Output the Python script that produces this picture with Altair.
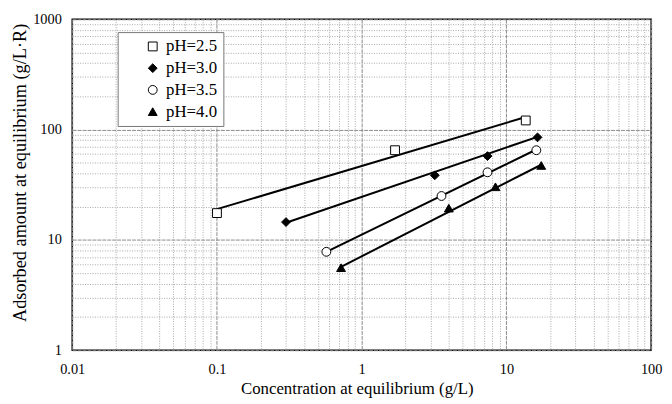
import altair as alt
import pandas as pd

series = ["pH=2.5", "pH=3.0", "pH=3.5", "pH=4.0"]

# measured points
c_25 = [0.1, 1.7, 13.6]
q_25 = [17.5, 65, 121]
c_30 = [0.3, 3.2, 7.4, 16.4]
q_30 = [14.5, 38.5, 57.5, 85]
c_35 = [0.57, 3.56, 7.4, 16.1]
q_35 = [7.8, 25, 41, 65]
c_40 = [0.72, 4.0, 8.4, 17.4]
q_40 = [5.6, 19.4, 30.3, 47.3]

# fitted line end points
fc_25 = [0.1, 13.6]
fq_25 = [19, 130]
fc_30 = [0.3, 16.4]
fq_30 = [14.3, 86]
fc_35 = [0.57, 16.1]
fq_35 = [7.8, 66]
fc_40 = [0.72, 17.4]
fq_40 = [5.7, 48]

x_ticks = [k * 10.0 ** e for e in range(-2, 2) for k in range(1, 10)] + [100]
y_ticks = [k * 10.0 ** e for e in range(0, 3) for k in range(1, 10)] + [1000]

pts = []
for s, cs, qs in zip(series, [c_25, c_30, c_35, c_40], [q_25, q_30, q_35, q_40]):
    for c, q in zip(cs, qs):
        pts.append({"series": s, "c": c, "q": q})
pts = pd.DataFrame(pts)

fits = []
for s, cs, qs in zip(series, [fc_25, fc_30, fc_35, fc_40], [fq_25, fq_30, fq_35, fq_40]):
    for c, q in zip(cs, qs):
        fits.append({"series": s, "c": c, "q": q})
fits = pd.DataFrame(fits)

FONT = "Liberation Serif"
dec = "abs(log(datum.value)/LN10 - round(log(datum.value)/LN10)) < 1e-6"

def axis(title, values, tsize, orient):
    extra = {"titleX": 288} if orient == "x" else {"titleY": 155}
    return alt.Axis(
        title=title,
        values=values,
        format="~g",
        labelExpr=f"{dec} ? datum.label : ''",
        labelOverlap=False,
        labelFlush=False,
        labelFont=FONT,
        labelFontSize=14.5,
        labelColor="black",
        titleFont=FONT,
        titleFontSize=tsize,
        titleFontWeight="normal",
        titleColor="black",
        ticks=False,
        domain=False,
        grid=True,
        gridColor={"condition": {"test": dec, "value": "#8a8a8a"}, "value": "#a8a8a8"},
        gridDash={"condition": {"test": dec, "value": [4, 1]}, "value": [1, 1.5]},
        gridWidth=1,
        labelPadding=13 if orient == "x" else 11,
        titlePadding=4 if orient == "x" else 3,
        **extra,
    )

xsc = alt.Scale(type="log", domain=[0.01, 100], nice=False)
ysc = alt.Scale(type="log", domain=[1, 1000], nice=False)

leg = dict(
    title=None,
    orient="none",
    legendX=46,
    legendY=13,
    fillColor="white",
    strokeColor="#777",
    padding=6,
    symbolOffset=21,
    labelFont=FONT,
    labelFontSize=17,
    labelColor="black",
    symbolStrokeColor="black",
    symbolSize=80,
    symbolStrokeWidth=1,
    rowPadding=4,
    labelOffset=5,
)

lines = alt.Chart(fits).mark_line(color="black", strokeWidth=2).encode(
    x=alt.X("c:Q", scale=xsc, axis=axis("Concentration at equilibrium (g/L)", x_ticks, 17, "x")),
    y=alt.Y("q:Q", scale=ysc, axis=axis("Adsorbed amount at equilibrium (g/L·R)", y_ticks, 18.5, "y")),
    detail="series:N",
)

points = alt.Chart(pts).mark_point(strokeWidth=1, opacity=1, size=80, fillOpacity=1).encode(
    x=alt.X("c:Q", scale=xsc),
    y=alt.Y("q:Q", scale=ysc),
    shape=alt.Shape(
        "series:N",
        scale=alt.Scale(domain=series, range=["square", "diamond", "circle", "triangle-up"]),
        legend=alt.Legend(**leg),
    ),
    fill=alt.Fill(
        "series:N",
        scale=alt.Scale(domain=series, range=["white", "black", "white", "black"]),
        legend=alt.Legend(**leg),
    ),
    stroke=alt.Stroke(
        "series:N",
        scale=alt.Scale(domain=series, range=["black", "black", "black", "black"]),
        legend=alt.Legend(**leg),
    ),
)

chart = (
    alt.layer(lines, points)
    .properties(
        width=586,
        height=335,
        autosize=alt.AutoSizeParams(type="none"),
        padding={"left": 65, "top": 9, "right": 13, "bottom": 50},
        background="white",
    )
    .configure_view(stroke="black", strokeWidth=1.5)
)

chart.save("out.html", embed_options={"renderer": "svg", "actions": False})
